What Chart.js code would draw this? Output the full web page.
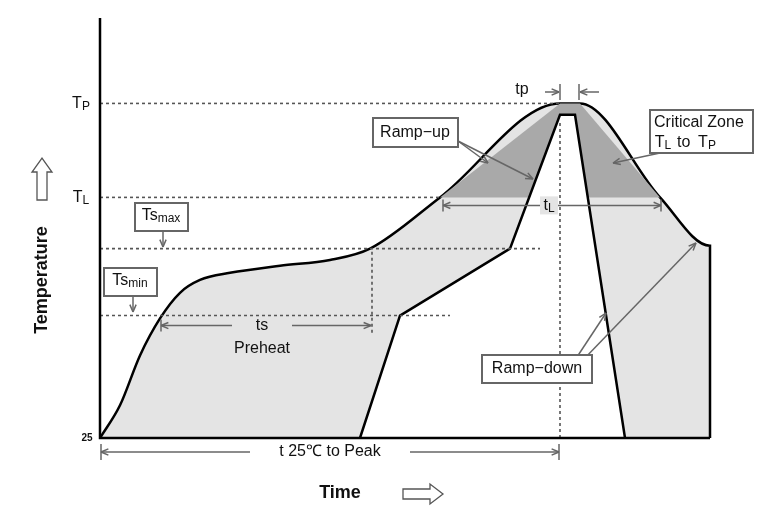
<!DOCTYPE html><html><head><meta charset="utf-8">
<script src="https://cdn.jsdelivr.net/npm/chart.js"></script>
<style>html,body{margin:0;background:#fff}#w{width:774px;height:519px}</style></head><body><div id="w"><canvas id="c"></canvas></div>
<script>
// time units (arbitrary), temperature units (arbitrary)
const outerX=[0,20,40,60,80,100,130,180,230,270,340,460,480,560,610,610];
const outerY=[25,48,83,109,127,136,141,146,150,158,194,260,260,194,160,25];
const innerX=[260,300,410,460,475,525];
const innerY=[25,111,158,252,252,25];
const zoneX=[340,460,480,560];
const zoneY=[194,260,260,194];
const TP=260,TL=194,TSMAX=158,TSMIN=111,T25=25,TPEAK_X=460,TS_END_X=272;
const pts=(xs,ys)=>xs.map((x,i)=>({x,y:ys[i]}));
const dot=(x0,x1,y)=>[{x:x0,y},{x:x1,y}];
function dl(data){return {data,showLine:true,borderColor:'#555',borderWidth:1.6,borderDash:[3,3],pointRadius:0,fill:false,order:0};}
const ann={id:'ann',afterDatasetsDraw(ch){
 const c=ch.ctx,xs=ch.scales.x,ys=ch.scales.y;const X=v=>xs.getPixelForValue(v),Y=v=>ys.getPixelForValue(v);
 c.save();
 c.strokeStyle='#000';c.lineWidth=2.5;c.beginPath();c.moveTo(X(0),18);c.lineTo(X(0),Y(T25));c.lineTo(X(610),Y(T25));c.stroke();
 const g='#666';
 function arrow(x0,y0,x1,y1,col){c.strokeStyle=col||g;c.lineWidth=1.5;c.beginPath();c.moveTo(x0,y0);c.lineTo(x1,y1);c.stroke();
  const a=Math.atan2(y1-y0,x1-x0),L=8;c.beginPath();c.moveTo(x1,y1);c.lineTo(x1-L*Math.cos(a-0.4),y1-L*Math.sin(a-0.4));c.moveTo(x1,y1);c.lineTo(x1-L*Math.cos(a+0.4),y1-L*Math.sin(a+0.4));c.stroke();}
 function vt(x,y0,y1){c.strokeStyle=g;c.lineWidth=1.5;c.beginPath();c.moveTo(x,y0);c.lineTo(x,y1);c.stroke();}
 function txt(s,x,y,f,al){c.fillStyle='#111';c.font=f||F;c.textAlign=al||'center';c.textBaseline='middle';c.fillText(s,x,y);}
 function box(x,y,w,h){c.fillStyle='#fff';c.fillRect(x,y,w,h);c.strokeStyle=g;c.lineWidth=2;c.strokeRect(x,y,w,h);}
 function sub(a,b,x,y,fa,fb){c.font=fa;const wa=c.measureText(a).width;c.font=fb;const wb=c.measureText(b).width;const s=x-(wa+wb)/2;txt(a,s,y,fa,'left');txt(b,s+wa,y+3,fb,'left');}
 const F='16px Arial, Liberation Sans',FS='12px Arial, Liberation Sans';
 sub('T','P',X(0)-19,Y(TP),F,FS);sub('T','L',X(0)-19,Y(TL),F,FS);txt('25',X(0)-13,Y(T25),'bold 10px Arial','center');
 const p0=X(460),p1=X(479);vt(p0,84,100);vt(p1,84,100);arrow(p0-15,92,p0-1,92);arrow(p1+20,92,p1+1,92);txt('tp',p0-38,90,F);
 const ly=Y(TL)+8;arrow(548,ly,443,ly);arrow(548,ly,661,ly);vt(443,ly-6,ly+6);vt(661,ly-6,ly+6);c.fillStyle='#e4e4e4';c.fillRect(540,ly-9,18,18);sub('t','L',549,ly,F,FS);
 const sy=Y(TSMIN)+10;arrow(232,sy,161,sy);arrow(292,sy,371,sy);vt(161,sy-6,sy+6);txt('ts',262,sy,F);txt('Preheat',262,sy+23,F);
 const by=452;arrow(250,by,101,by);arrow(410,by,559,by);vt(101,by-8,by+8);vt(559,by-8,by+8);txt('t 25℃ to Peak',330,by,F);
 box(373,118,85,29);txt('Ramp−up',415,133,F);arrow(458,141,488,163);arrow(458,141,533,179);
 box(650,110,103,43);txt('Critical Zone',654,123,F,'left');sub('T','L',663,143,F,FS);txt('to',677,143,F,'left');sub('T','P',707,143,F,FS);arrow(660,153,613,163);
 box(135,203,53,28);sub('Ts','max',161,216,F,FS);arrow(163,232,163,247);
 box(104,268,53,28);sub('Ts','min',130,281,F,FS);arrow(133,297,133,312);
 arrow(575,360,606,313);arrow(583,360,696,243);box(482,355,110,28);txt('Ramp−down',537,369,F);
 c.save();c.translate(42,280);c.rotate(-Math.PI/2);txt('Temperature',0,0,'bold 18px Arial, Liberation Sans');c.restore();
 c.strokeStyle='#555';c.lineWidth=1.3;c.fillStyle='#fff';
 c.beginPath();c.moveTo(37,200);c.lineTo(37,172);c.lineTo(32,172);c.lineTo(42,158);c.lineTo(52,172);c.lineTo(47,172);c.lineTo(47,200);c.closePath();c.fill();c.stroke();
 txt('Time',340,493,'bold 18px Arial, Liberation Sans');
 c.fillStyle='#fff';c.strokeStyle='#555';
 c.beginPath();c.moveTo(403,489);c.lineTo(430,489);c.lineTo(430,484);c.lineTo(443,494);c.lineTo(430,504);c.lineTo(430,499);c.lineTo(403,499);c.closePath();c.fill();c.stroke();
 c.restore();}};
new Chart(document.getElementById('c'),{type:'scatter',
 data:{datasets:[
  {data:pts(outerX,outerY),showLine:true,cubicInterpolationMode:'monotone',borderColor:'#000',borderWidth:2.5,backgroundColor:'#e4e4e4',fill:'origin',pointRadius:0,order:5},
  {data:pts(zoneX,zoneY),showLine:true,borderColor:'rgba(0,0,0,0)',borderWidth:0,backgroundColor:'#a9a9a9',fill:{value:TL},pointRadius:0,order:4},
  {data:pts(innerX,innerY),showLine:true,borderColor:'#000',borderWidth:2.5,backgroundColor:'#fff',fill:'origin',pointRadius:0,order:3},
  dl(dot(0,460,TP)),dl(dot(0,340,TL)),dl(dot(0,440,TSMAX)),dl(dot(0,350,TSMIN)),
  dl([{x:TPEAK_X,y:T25},{x:TPEAK_X,y:248}]),
  dl([{x:TS_END_X,y:TSMIN-12},{x:TS_END_X,y:TSMAX}])
 ]},
 options:{responsive:true,maintainAspectRatio:false,animation:false,
  layout:{padding:{left:100,top:18,right:54,bottom:81}},
  plugins:{legend:{display:false},tooltip:{enabled:false}},
  scales:{x:{type:'linear',min:0,max:620,display:false},y:{min:25,max:320,display:false}}},
 plugins:[ann]});
</script></body></html>
